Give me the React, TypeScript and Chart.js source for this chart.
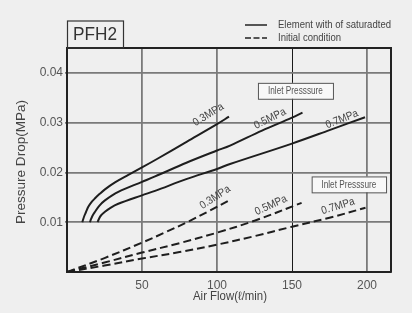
import React, { useEffect, useRef } from "react";
import { Chart, registerables } from "chart.js";

Chart.register(...registerables);

// ---- data ----
const xTicks = [50, 100, 150, 200];
const yTicks = [0.01, 0.02, 0.03, 0.04];

// Element with of saturadted (solid)
const sat03Flow = [10.2, 10.8, 11.6, 12.6, 14.2, 16.2, 18.7, 21.8, 25.3, 32, 40.9, 50, 60, 80, 100, 108];
const sat03Drop = [0.01, 0.0106, 0.0113, 0.0120, 0.0131, 0.0140, 0.0148, 0.0157, 0.0166, 0.0180, 0.0195, 0.0210, 0.0227, 0.0262, 0.0297, 0.0312];
const sat05Flow = [15.3, 16.0, 17.0, 18.7, 21.5, 25.3, 34.2, 50, 58.7, 80, 100, 108.7, 130, 150, 157];
const sat05Drop = [0.01, 0.0106, 0.0113, 0.0121, 0.0133, 0.0144, 0.0161, 0.0181, 0.0192, 0.0220, 0.0244, 0.0254, 0.0284, 0.0310, 0.0320];
const sat07Flow = [20.4, 21.2, 22.5, 25.3, 29, 34.2, 50, 58.7, 80, 100, 108.7, 150, 175, 198.7];
const sat07Drop = [0.01, 0.0106, 0.0113, 0.0121, 0.0129, 0.0137, 0.0154, 0.0163, 0.0187, 0.0207, 0.0217, 0.0258, 0.0285, 0.0311];

// Initial condition (dashed)
const init03Flow = [0, 25, 50, 65, 80, 95, 108.7];
const init03Drop = [0, 0.0028, 0.0059, 0.0079, 0.0100, 0.0123, 0.0145];
const init05Flow = [0, 25, 50, 75, 100, 125, 156.4];
const init05Drop = [0, 0.0019, 0.0039, 0.0058, 0.0079, 0.0103, 0.0139];
const init07Flow = [0, 25, 50, 75, 100, 125, 150, 175, 199];
const init07Drop = [0, 0.0013, 0.0027, 0.0040, 0.0055, 0.0072, 0.0091, 0.0109, 0.0129];

const pressures = ["0.3MPa", "0.5MPa", "0.7MPa"];
const modelName = "PFH2";
const legendSolid = "Element with of saturadted";
const legendDashed = "Initial condition";
const inletText = "Inlet Presssure";
const xTitle = "Air Flow(\u2113/min)";
const yTitle = "Pressure Drop(MPa)";

const pts = (xs: number[], ys: number[]) => xs.map((x, i) => ({ x, y: ys[i] }));

const FONT = "'Liberation Sans', Arial, sans-serif";

function drawText(
  ctx: CanvasRenderingContext2D,
  text: string,
  x: number,
  y: number,
  size: number,
  color: string,
  opts: { width?: number; sx?: number; align?: CanvasTextAlign; rot?: number } = {}
) {
  ctx.save();
  ctx.font = `${size}px ${FONT}`;
  ctx.fillStyle = color;
  ctx.textBaseline = "middle";
  ctx.textAlign = opts.align || "left";
  ctx.translate(x, y);
  if (opts.rot) ctx.rotate((opts.rot * Math.PI) / 180);
  let sx = opts.sx || 1;
  if (opts.width) sx = opts.width / ctx.measureText(text).width;
  ctx.scale(sx, 1);
  ctx.fillText(text, 0, 0);
  ctx.restore();
}

const decorPlugin = {
  id: "decor",
  beforeDraw(chart: any) {
    const ctx = chart.ctx;
    ctx.save();
    ctx.fillStyle = "#efefef";
    ctx.fillRect(0, 0, chart.width, chart.height);
    ctx.restore();
  },
  afterDraw(chart: any) {
    const ctx: CanvasRenderingContext2D = chart.ctx;
    const a = chart.chartArea;
    const xs = chart.scales.x;
    const ys = chart.scales.y;
    const px = (v: number) => xs.getPixelForValue(v);
    const py = (v: number) => ys.getPixelForValue(v);

    // frame top / right
    ctx.save();
    ctx.strokeStyle = "#222";
    ctx.lineWidth = 2;
    ctx.beginPath();
    ctx.moveTo(a.left, a.top);
    ctx.lineTo(a.right, a.top);
    ctx.lineTo(a.right, a.bottom);
    ctx.stroke();
    ctx.restore();

    // model box
    ctx.save();
    ctx.strokeStyle = "#333";
    ctx.lineWidth = 1.2;
    ctx.strokeRect(a.left + 0.5, 21, 56, a.top - 21);
    ctx.restore();
    drawText(ctx, modelName, a.left + 28, 35, 18, "#333", { align: "center", width: 44 });

    // legend
    ctx.save();
    ctx.strokeStyle = "#222";
    ctx.lineWidth = 1.5;
    ctx.beginPath();
    ctx.moveTo(245, 25);
    ctx.lineTo(267, 25);
    ctx.stroke();
    ctx.setLineDash([6, 2.5]);
    ctx.beginPath();
    ctx.moveTo(245, 38);
    ctx.lineTo(267, 38);
    ctx.stroke();
    ctx.restore();
    drawText(ctx, legendSolid, 278, 25, 11, "#444", { width: 113 });
    drawText(ctx, legendDashed, 278, 38, 11, "#444", { width: 63 });

    // inlet pressure boxes
    const box = (fx0: number, fy0: number, fx1: number, fy1: number) => {
      const x0 = px(fx0), y0 = py(fy0), x1 = px(fx1), y1 = py(fy1);
      ctx.save();
      ctx.fillStyle = "#f8f8f8";
      ctx.fillRect(x0, y0, x1 - x0, y1 - y0);
      ctx.strokeStyle = "#555";
      ctx.lineWidth = 1;
      ctx.strokeRect(x0 + 0.5, y0 + 0.5, x1 - x0, y1 - y0);
      ctx.restore();
      drawText(ctx, inletText, (x0 + x1) / 2, (y0 + y1) / 2 + 0.5, 11, "#555", { align: "center", width: 55 });
    };
    box(127.3, 0.038, 177.3, 0.0348);
    box(163.1, 0.0192, 212.7, 0.016);

    // pressure labels
    const solidPos = [
      [94.3, 0.0316, -32],
      [135.3, 0.0308, -26],
      [183.3, 0.0307, -22],
    ];
    const dashPos = [
      [98.7, 0.0150, -33],
      [136, 0.0134, -25],
      [180.7, 0.0132, -17],
    ];
    solidPos.forEach((p, i) =>
      drawText(ctx, pressures[i], px(p[0]), py(p[1]), 11, "#444", { align: "center", rot: p[2], sx: 0.9 })
    );
    dashPos.forEach((p, i) =>
      drawText(ctx, pressures[i], px(p[0]), py(p[1]), 11, "#444", { align: "center", rot: p[2], sx: 0.9 })
    );

    // axis titles
    drawText(ctx, xTitle, (a.left + a.right) / 2 + 1, 297, 12, "#444", { align: "center", width: 74 });
    drawText(ctx, yTitle, 22, (a.top + a.bottom) / 2 + 2, 12, "#444", { align: "center", rot: -90, width: 124 });
  },
};

export default function App() {
  const ref = useRef<HTMLCanvasElement | null>(null);

  useEffect(() => {
    document.body.style.margin = "0";
    document.body.style.background = "#efefef";
    if (!ref.current) return;
    const solid = { borderColor: "#1e1e1e", borderWidth: 2, pointRadius: 0, tension: 0.35, fill: false };
    const dashed = { ...solid, borderDash: [8, 4] };
    const chart = new Chart(ref.current, {
      type: "line",
      data: {
        datasets: [
          { label: "sat 0.3", data: pts(sat03Flow, sat03Drop), ...solid },
          { label: "sat 0.5", data: pts(sat05Flow, sat05Drop), ...solid },
          { label: "sat 0.7", data: pts(sat07Flow, sat07Drop), ...solid },
          { label: "init 0.3", data: pts(init03Flow, init03Drop), ...dashed },
          { label: "init 0.5", data: pts(init05Flow, init05Drop), ...dashed },
          { label: "init 0.7", data: pts(init07Flow, init07Drop), ...dashed },
        ],
      },
      options: {
        animation: false,
        responsive: false,
        devicePixelRatio: 1,
        layout: { padding: { left: 0, top: 48, right: 21, bottom: 0 } },
        plugins: { legend: { display: false }, tooltip: { enabled: false } },
        scales: {
          x: {
            type: "linear",
            min: 0,
            max: 216,
            afterBuildTicks: (s: any) => {
              s.ticks = xTicks.map((v) => ({ value: v }));
            },
            afterFit: (s: any) => {
              s.height = 41;
            },
            ticks: {
              color: "#555",
              font: { size: 12, family: FONT },
              padding: 6,
              maxRotation: 0,
              autoSkip: false,
              callback: (v: any) => String(v),
            },
            grid: {
              drawTicks: false,
              color: (c: any) => (c.tick && c.tick.value === 150 ? "#1a1a1a" : "#7a7a7a"),
              lineWidth: (c: any) => (c.tick && c.tick.value === 150 ? 1 : 1.8),
            },
            border: { display: true, color: "#222", width: 2 },
          },
          y: {
            type: "linear",
            min: 0,
            max: 0.045,
            afterBuildTicks: (s: any) => {
              s.ticks = yTicks.map((v) => ({ value: v }));
            },
            afterFit: (s: any) => {
              s.width = 67;
            },
            ticks: {
              color: "#555",
              font: { size: 12, family: FONT },
              padding: 2,
              autoSkip: false,
              callback: (v: any) => Number(v).toFixed(2),
            },
            grid: {
              tickLength: 2,
              color: "#7a7a7a",
              lineWidth: 1.8,
            },
            border: { display: true, color: "#222", width: 2 },
          },
        },
      },
      plugins: [decorPlugin],
    });
    return () => chart.destroy();
  }, []);

  return (
    <div style={{ width: 412, height: 313 }}>
      <canvas ref={ref} width={412} height={313} style={{ display: "block" }} />
    </div>
  );
}
